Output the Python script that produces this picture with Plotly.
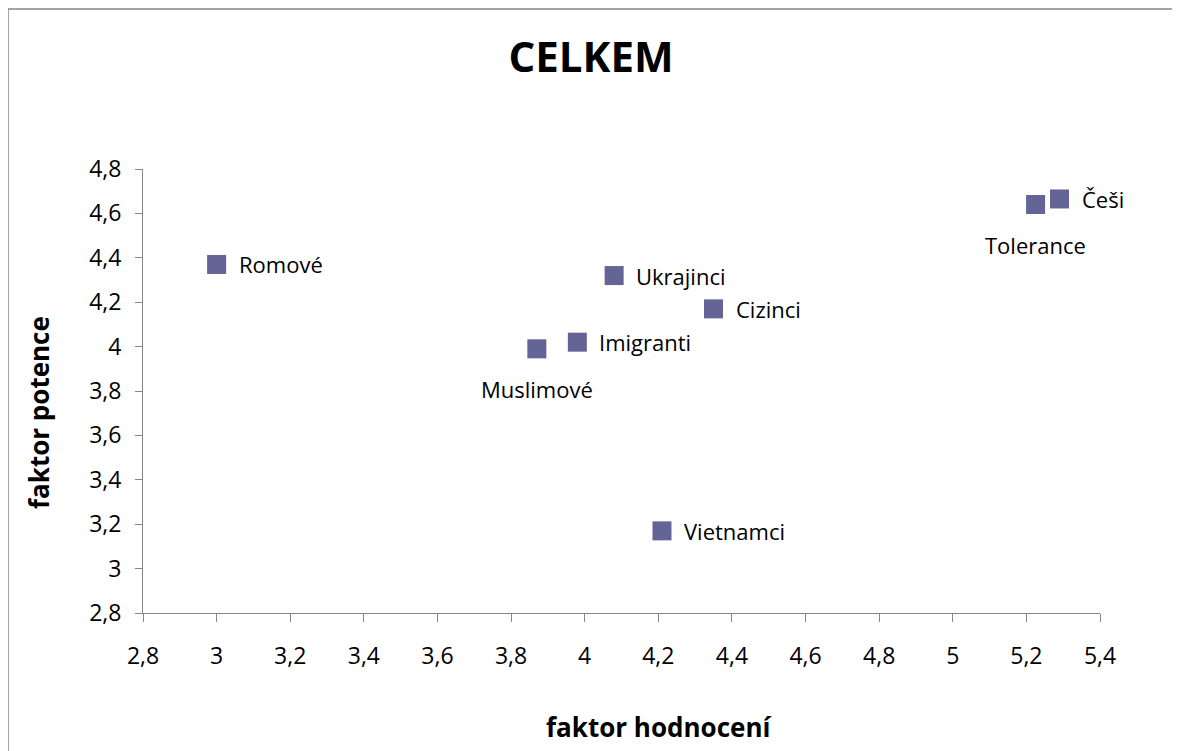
import plotly.graph_objects as go

# data
names = ["Romové", "Ukrajinci", "Cizinci", "Imigranti", "Muslimové", "Vietnamci", "Tolerance", "Češi"]
hodnoceni = [3.00, 4.08, 4.35, 3.98, 3.87, 4.21, 5.225, 5.29]
potence = [4.37, 4.32, 4.17, 4.02, 3.99, 3.17, 4.64, 4.665]
labels_below = {"Muslimové", "Tolerance"}

FONT = "Open Sans"
MARKER = "#646496"
AXIS = "#878787"

W, H = 1180, 751
OFF = 8  # page body margin
L, R, T, B = 143, 1100, 169, 613  # plot area in screen px


def px(x, y):
    return (x - L) / (R - L), (B - y) / (B - T)


fig = go.Figure(go.Scatter(
    x=hodnoceni, y=potence, mode="markers",
    marker=dict(symbol="square", size=19, color=MARKER, line=dict(width=0)),
    hoverinfo="skip", showlegend=False,
))

for n, xv, yv in zip(names, hodnoceni, potence):
    if n in labels_below:
        fig.add_annotation(x=xv, y=yv, text=n, showarrow=False, xanchor="center",
                           yanchor="middle", yshift=-40, font=dict(size=22, color="black", family=FONT))
    else:
        fig.add_annotation(x=xv, y=yv, text=n, showarrow=False, xanchor="left",
                           yanchor="middle", xshift=20, font=dict(size=22, color="black", family=FONT))

ax, ay = px(658, 727)
fig.add_annotation(xref="paper", yref="paper", x=ax, y=ay, text="<b>faktor hodnocení</b>",
                   showarrow=False, xanchor="center", yanchor="middle",
                   font=dict(size=26, color="black", family=FONT))
ax, ay = px(39, 413)
fig.add_annotation(xref="paper", yref="paper", x=ax, y=ay, text="<b>faktor potence</b>",
                   showarrow=False, xanchor="center", yanchor="middle", textangle=-90,
                   font=dict(size=26, color="black", family=FONT))

# outer chart border
x0, y0 = px(8, 800)
x1, y1 = px(1178, 9)
fig.add_shape(type="rect", xref="paper", yref="paper", x0=x0, y0=y0, x1=x1, y1=y1,
              line=dict(color=AXIS, width=1.5), layer="below")

axis_style = dict(showgrid=False, zeroline=False, showline=True, linecolor=AXIS, linewidth=1,
                  ticks="outside", tickcolor=AXIS, tickwidth=1,
                  tickfont=dict(size=23, color="black", family=FONT))

fig.update_xaxes(range=[2.8, 5.4], tick0=2.8, dtick=0.2, ticklen=8, ticklabelstandoff=14, **axis_style)
fig.update_yaxes(range=[2.8, 4.8], tick0=2.8, dtick=0.2, ticklen=7, ticklabelstandoff=9, **axis_style)

fig.update_layout(
    width=W - OFF, height=H - OFF,
    margin=dict(l=L - OFF, r=W - R, t=T - OFF, b=H - B),
    paper_bgcolor="white", plot_bgcolor="white",
    separators=", ",
    title=dict(text="<b>CELKEM</b>", x=(591 - OFF) / (W - OFF), xanchor="center",
               y=1 - (57 - OFF) / (H - OFF), yanchor="middle",
               font=dict(size=42, color="black", family=FONT)),
)

fig.write_html("out.html")
